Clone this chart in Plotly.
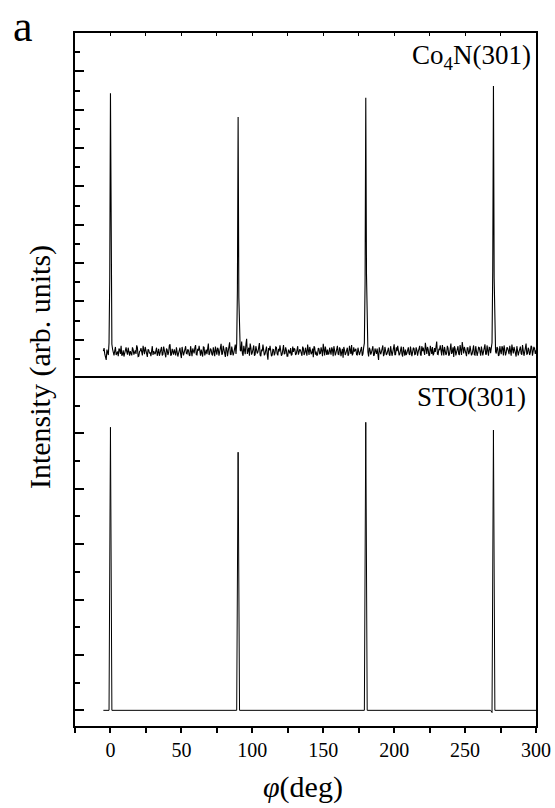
import plotly.graph_objects as go

# Co4N(301) phi-scan, integer-degree samples (-5 ... 300)
phi_co4n_int = list(range(-5, 301))
co4n_int = [
    0.70,0.62,0.47,0.66,0.92,7.43,0.88,0.64,0.71,0.60,0.69,0.77,0.63,0.58,0.72,0.66,0.80,0.61,0.67,0.70,
    0.59,0.74,0.68,0.63,0.79,0.57,0.71,0.66,0.84,0.62,0.69,0.55,0.73,0.67,0.78,0.60,0.65,0.71,0.58,0.76,
    0.69,0.81,0.62,0.70,0.54,0.73,0.66,0.88,0.61,0.68,0.75,0.59,0.71,0.64,0.79,0.52,0.70,0.67,0.83,0.63,
    0.72,0.58,0.69,0.77,0.64,0.86,0.60,0.71,0.66,0.74,0.56,0.80,0.68,0.62,0.90,0.65,0.73,0.59,0.70,0.82,
    0.61,0.75,0.67,0.89,0.63,0.72,0.55,0.78,0.69,0.93,0.60,0.74,0.66,0.87,0.90,6.81,0.88,0.70,0.64,0.84,
    0.62,1.02,0.71,0.58,0.79,0.66,0.85,0.61,0.73,0.68,0.91,0.57,0.70,0.76,0.63,0.82,0.48,0.72,0.67,0.60,
    0.74,0.65,0.80,0.59,0.69,0.71,0.62,0.86,0.64,0.73,0.57,0.70,0.78,0.61,0.68,0.75,0.63,0.83,0.66,0.72,
    0.58,0.77,0.65,0.70,0.87,0.60,0.73,0.67,0.54,0.79,0.69,0.62,0.76,0.64,0.71,0.89,0.59,0.68,0.74,0.63,
    0.70,0.80,0.57,0.72,0.66,0.84,0.61,0.75,0.68,0.53,0.73,0.65,0.79,0.62,0.71,0.86,0.64,0.69,0.76,0.60,
    0.72,0.67,0.81,0.63,0.91,7.31,0.89,0.56,0.74,0.66,0.83,0.60,0.70,0.77,0.47,0.73,0.68,0.85,0.62,0.71,
    0.64,0.79,0.58,0.72,0.67,0.88,0.61,0.70,0.75,0.63,0.82,0.56,0.69,0.74,0.65,0.80,0.60,0.71,0.67,0.77,
    0.62,0.73,0.69,0.84,0.58,0.70,0.66,0.92,0.63,0.75,0.60,0.71,0.81,0.64,0.68,0.95,0.61,0.74,0.67,0.86,
    0.59,0.72,0.65,0.78,0.62,0.90,0.68,0.55,0.76,0.66,0.83,0.61,0.71,0.94,0.64,0.70,0.57,0.79,0.67,0.73,
    0.63,0.85,0.60,0.72,0.66,0.79,0.58,0.74,0.69,0.88,0.62,0.71,0.80,0.65,0.92,7.62,0.90,0.64,0.77,0.60,
    0.70,0.83,0.59,0.73,0.66,0.78,0.62,0.71,0.87,0.64,0.69,0.56,0.75,0.68,0.82,0.61,0.72,0.67,0.90,0.63,
    0.74,0.66,0.81,0.69,0.77,0.72,
]
# Co4N(301) phi-scan, half-degree samples (-4.5 ... 299.5)
phi_co4n_half = [p + 0.5 for p in range(-5, 300)]
co4n_half = [
    0.78,0.55,0.74,0.60,2.60,2.40,0.75,0.59,0.81,0.66,0.57,0.73,0.84,0.62,0.56,0.77,0.68,0.79,0.58,0.64,
    0.80,0.61,0.72,0.85,0.56,0.69,0.78,0.59,0.73,0.81,0.60,0.75,0.64,0.57,0.83,0.70,0.62,0.79,0.66,0.58,
    0.74,0.59,0.82,0.63,0.77,0.60,0.85,0.58,0.76,0.61,0.67,0.80,0.56,0.73,0.62,0.81,0.59,0.78,0.64,0.75,
    0.60,0.83,0.57,0.65,0.79,0.61,0.76,0.84,0.58,0.63,0.81,0.59,0.74,0.86,0.60,0.77,0.62,0.80,0.57,0.66,
    0.79,0.58,0.76,0.61,0.84,0.63,0.80,0.57,0.75,0.62,0.82,0.59,0.77,0.63,2.30,2.10,0.72,0.95,0.58,0.76,
    0.88,0.63,0.79,0.90,0.61,0.77,0.58,0.83,0.64,0.80,0.60,0.74,0.87,0.59,0.71,0.62,0.78,0.84,0.57,0.75,
    0.59,0.81,0.63,0.76,0.85,0.58,0.78,0.62,0.80,0.57,0.74,0.64,0.59,0.82,0.77,0.60,0.79,0.61,0.75,0.63,
    0.82,0.60,0.79,0.58,0.74,0.81,0.62,0.77,0.83,0.61,0.58,0.78,0.63,0.80,0.57,0.73,0.82,0.60,0.62,0.79,
    0.61,0.74,0.83,0.59,0.78,0.62,0.80,0.57,0.76,0.81,0.60,0.77,0.58,0.84,0.63,0.59,0.80,0.75,0.61,0.79,
    0.60,0.78,0.58,0.80,2.50,2.70,0.68,0.79,0.61,0.82,0.58,0.77,0.63,0.59,0.80,0.62,0.78,0.57,0.81,0.60,
    0.79,0.62,0.83,0.58,0.77,0.61,0.80,0.84,0.59,0.76,0.62,0.81,0.58,0.60,0.78,0.63,0.82,0.57,0.79,0.61,
    0.80,0.58,0.77,0.62,0.83,0.79,0.60,0.76,0.81,0.58,0.84,0.63,0.59,0.78,0.80,0.62,0.75,0.85,0.59,0.64,
    0.81,0.60,0.84,0.58,0.77,0.63,0.80,0.83,0.59,0.78,0.62,0.86,0.60,0.73,0.81,0.58,0.79,0.62,0.84,0.59,
    0.78,0.61,0.83,0.58,0.80,0.63,0.82,0.59,0.77,0.62,0.85,0.58,0.79,0.83,2.80,2.60,0.69,0.81,0.58,0.83,
    0.62,0.78,0.85,0.59,0.80,0.63,0.84,0.58,0.76,0.81,0.60,0.83,0.59,0.78,0.64,0.86,0.58,0.80,0.62,0.79,
    0.60,0.84,0.58,0.81,0.63,
]

# STO(301) phi-scan: flat baseline with four sharp peaks
phi_sto = [-5, -1, 0, 1, 89, 90, 91, 179, 180, 181, 268, 269, 270, 271, 300]
sto = [0.0, 0.0, 5.11, 0.0, 0.0, 4.66, 0.0, 0.0, 5.20, 0.0, 0.0, -0.04, 5.06, 0.0, 0.0]

x_ticks = [0, 50, 100, 150, 200, 250, 300]
x_range = [-25, 300]
label_top = "Co<sub>4</sub>N(301)"
label_bottom = "STO(301)"
x_title = "<i>φ</i>(deg)"
y_title = "Intensity (arb. units)"
panel_label = "a"

# merge the two sampling grids of the Co4N scan into one ordered trace
co4n_pts = sorted(zip(phi_co4n_int + phi_co4n_half, co4n_int + co4n_half))
phi_co4n = [p for p, _ in co4n_pts]
co4n = [v for _, v in co4n_pts]

FONT = "Liberation Serif"
split = 348 / 693

fig = go.Figure()
fig.add_trace(go.Scatter(x=phi_co4n, y=co4n, xaxis="x2", yaxis="y2", mode="lines",
                         line=dict(color="black", width=1.1), showlegend=False, hoverinfo="skip"))
fig.add_trace(go.Scatter(x=phi_sto, y=sto, xaxis="x", yaxis="y", mode="lines",
                         line=dict(color="black", width=1), showlegend=False, hoverinfo="skip"))

common_y = dict(showline=True, linecolor="black", linewidth=1.5, mirror=True,
                ticks="inside", ticklen=9, tickwidth=1.5, tickcolor="black", dtick=1, tick0=0,
                minor=dict(dtick=0.5, ticks="inside", ticklen=5, tickwidth=1.5, tickcolor="black"),
                showticklabels=False, showgrid=False, zeroline=False)

fig.update_layout(
    width=555, height=808,
    margin=dict(l=75, r=19, t=33, b=82, autoexpand=False),
    paper_bgcolor="white", plot_bgcolor="white",
    font=dict(family=FONT, color="black"),
    xaxis=dict(domain=[0, 1], range=x_range, anchor="y", showline=True, linecolor="black",
               linewidth=1.5, mirror=True, ticks="outside", ticklen=5, tickwidth=1.5,
               tickcolor="black", tickvals=x_ticks, ticktext=[str(v) for v in x_ticks],
               minor=dict(dtick=25, tick0=0, ticks="outside", ticklen=5, tickwidth=1.5, tickcolor="black"),
               tickfont=dict(family=FONT, size=20, color="black"), automargin=False,
               showgrid=False, zeroline=False),
    xaxis2=dict(domain=[0, 1], range=x_range, anchor="y2", side="top", showline=True,
                linecolor="black", linewidth=1.5, ticks="inside", ticklen=3, tickwidth=1,
                tickcolor="black", dtick=25, tick0=0, showticklabels=False,
                showgrid=False, zeroline=False),
    yaxis=dict(domain=[0, split], range=[-0.283, 6], anchor="x", **common_y),
    yaxis2=dict(domain=[split, 1], range=[0, 9], anchor="x2", **common_y),
    annotations=[
        dict(text=label_top, xref="paper", yref="paper", x=0.9935, y=0.966,
             xanchor="right", yanchor="middle", showarrow=False,
             font=dict(family=FONT, size=27, color="black")),
        dict(text=label_bottom, xref="paper", yref="paper", x=0.983, y=0.4747,
             xanchor="right", yanchor="middle", showarrow=False,
             font=dict(family=FONT, size=27, color="black")),
        dict(text=x_title, xref="paper", yref="paper", x=0.4946, y=-0.088,
             xanchor="center", yanchor="middle", showarrow=False,
             font=dict(family=FONT, size=30, color="black")),
        dict(text=y_title, xref="paper", yref="paper", x=-0.0759, y=0.518,
             xanchor="center", yanchor="middle", showarrow=False, textangle=-90,
             font=dict(family=FONT, size=30, color="black")),
        dict(text=panel_label, xref="paper", yref="paper", x=-0.113, y=1.01,
             xanchor="center", yanchor="middle", showarrow=False,
             font=dict(family=FONT, size=44, color="black")),
    ],
)

fig.write_html("out.html", config={"displayModeBar": False},
               post_script="document.body.style.margin='0px';")
